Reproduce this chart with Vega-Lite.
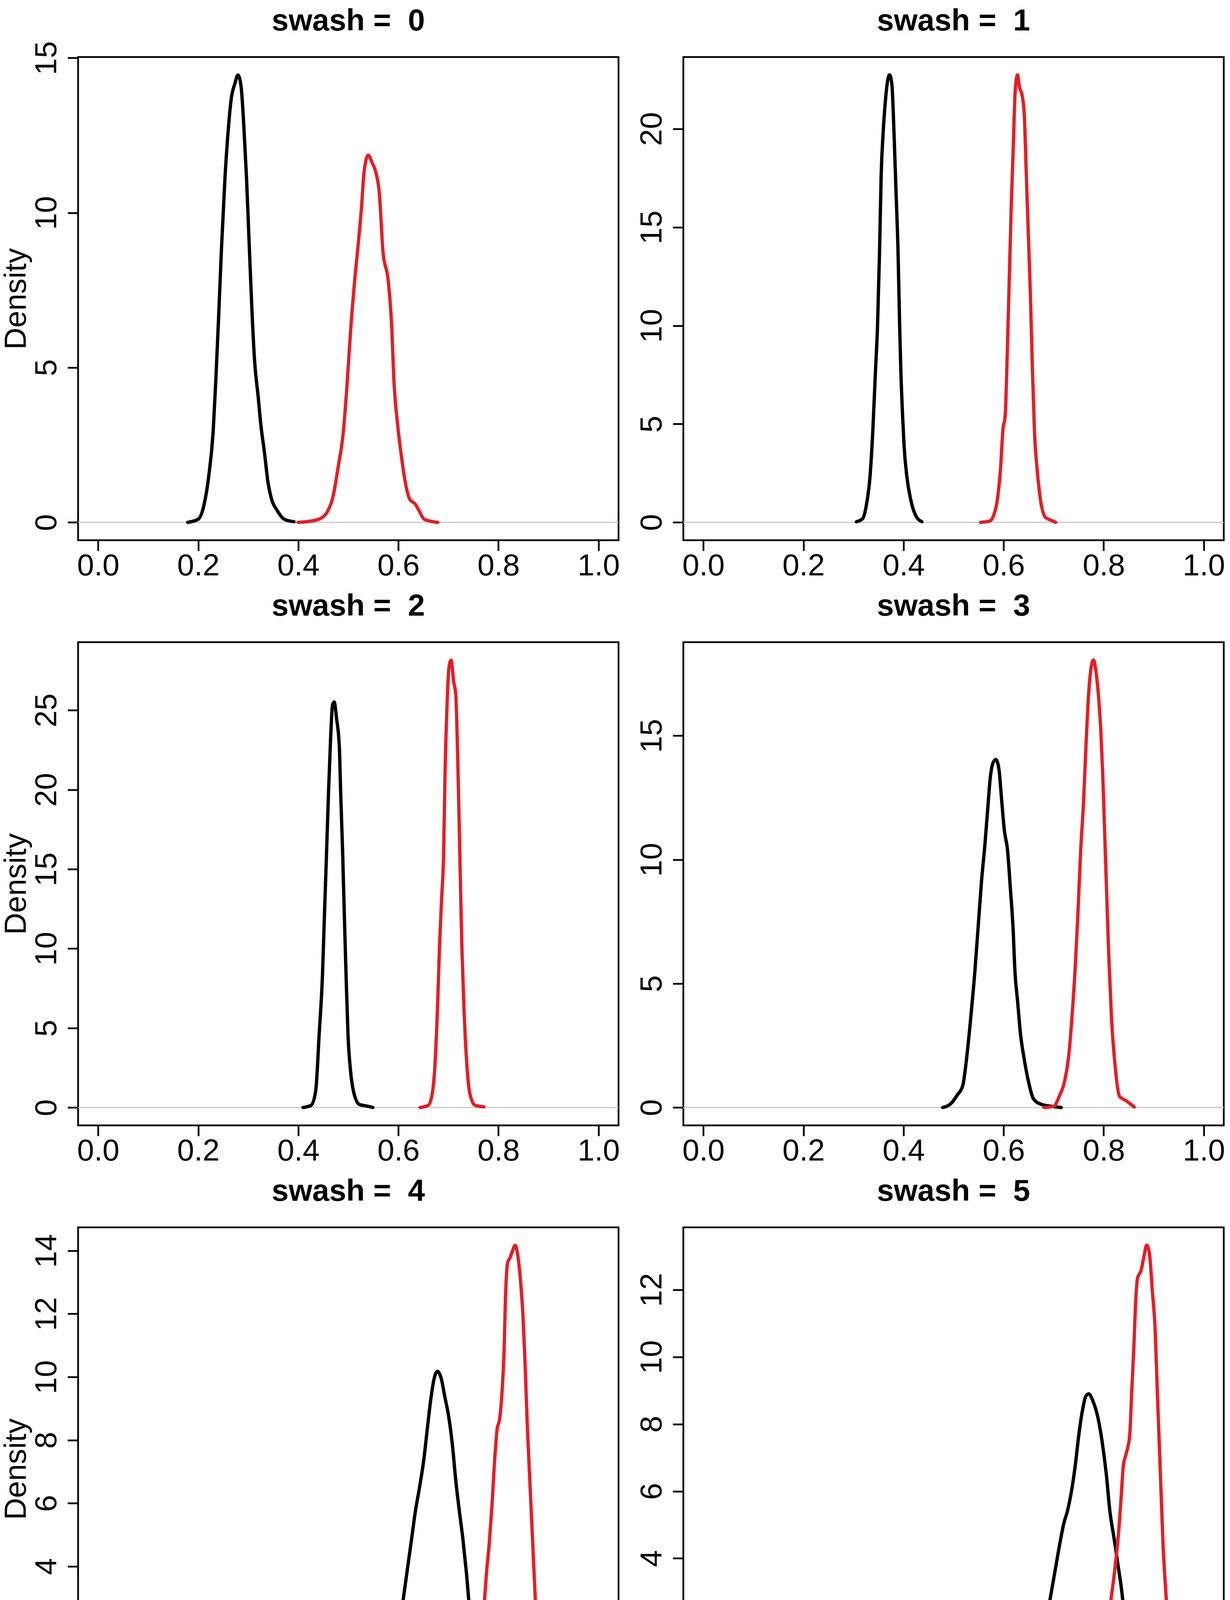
{
"$schema": "https://vega.github.io/schema/vega-lite/v6.json",
"background": "white",
"padding": {"top": 13, "left": 0, "right": 0, "bottom": 0},
"config": {
 "font": "Liberation Sans",
 "view": {"stroke": "black", "strokeWidth": 4.5},
 "axis": {"grid": false, "domain": false, "ticks": true, "tickColor": "black", "tickWidth": 4.5, "tickSize": 27, "labelFontSize": 78, "labelColor": "black", "labelFont": "Liberation Sans", "titleFontSize": 78, "titleFontWeight": "normal", "titleColor": "black", "titleFont": "Liberation Sans", "labelOverlap": false, "labelBound": false, "labelFlush": false},
 "axisX": {"labelPadding": 0, "labelAngle": 0, "titlePadding": 10},
 "axisY": {"labelAngle": 270, "labelAlign": "center", "labelBaseline": "alphabetic", "labelPadding": 30, "titlePadding": 0},
 "title": {"fontSize": 78, "fontWeight": "bold", "color": "black", "font": "Liberation Sans", "baseline": "alphabetic", "anchor": "middle", "frame": "group", "offset": 52},
 "line": {"strokeWidth": 8.5, "strokeJoin": "round", "strokeCap": "round", "interpolate": "monotone"}
},
"data": {"values": [
{"swash":0,"group":"A","p":0.179,"density":0},{"swash":0,"group":"A","p":0.2,"density":0.1},{"swash":0,"group":"A","p":0.212,"density":0.59},{"swash":0,"group":"A","p":0.221,"density":1.48},{"swash":0,"group":"A","p":0.23,"density":2.95},{"swash":0,"group":"A","p":0.2356,"density":4.72},{"swash":0,"group":"A","p":0.241,"density":6.69},{"swash":0,"group":"A","p":0.2463,"density":8.76},{"swash":0,"group":"A","p":0.2535,"density":11.12},{"swash":0,"group":"A","p":0.2607,"density":12.8},{"swash":0,"group":"A","p":0.266,"density":13.68},{"swash":0,"group":"A","p":0.2733,"density":14.17},{"swash":0,"group":"A","p":0.2794,"density":14.45},{"swash":0,"group":"A","p":0.2858,"density":14.07},{"swash":0,"group":"A","p":0.2912,"density":12.8},{"swash":0,"group":"A","p":0.2966,"density":11.12},{"swash":0,"group":"A","p":0.302,"density":8.96},{"swash":0,"group":"A","p":0.3073,"density":6.89},{"swash":0,"group":"A","p":0.3127,"density":5.22},{"swash":0,"group":"A","p":0.32,"density":4.04},{"swash":0,"group":"A","p":0.3252,"density":3.15},{"swash":0,"group":"A","p":0.3324,"density":2.26},{"swash":0,"group":"A","p":0.3396,"density":1.28},{"swash":0,"group":"A","p":0.3468,"density":0.74},{"swash":0,"group":"A","p":0.3576,"density":0.39},{"swash":0,"group":"A","p":0.3719,"density":0.1},{"swash":0,"group":"A","p":0.3916,"density":0.02},
{"swash":0,"group":"B","p":0.3995,"density":0},{"swash":0,"group":"B","p":0.4293,"density":0.05},{"swash":0,"group":"B","p":0.4472,"density":0.15},{"swash":0,"group":"B","p":0.458,"density":0.34},{"swash":0,"group":"B","p":0.4688,"density":0.79},{"swash":0,"group":"B","p":0.4795,"density":1.77},{"swash":0,"group":"B","p":0.4902,"density":2.95},{"swash":0,"group":"B","p":0.4974,"density":4.43},{"swash":0,"group":"B","p":0.5046,"density":6.2},{"swash":0,"group":"B","p":0.5136,"density":7.97},{"swash":0,"group":"B","p":0.5208,"density":9.15},{"swash":0,"group":"B","p":0.5262,"density":10.14},{"swash":0,"group":"B","p":0.5315,"density":11.32},{"swash":0,"group":"B","p":0.5398,"density":11.86},{"swash":0,"group":"B","p":0.5477,"density":11.61},{"swash":0,"group":"B","p":0.5548,"density":11.32},{"swash":0,"group":"B","p":0.562,"density":10.63},{"swash":0,"group":"B","p":0.5692,"density":8.76},{"swash":0,"group":"B","p":0.5799,"density":7.78},{"swash":0,"group":"B","p":0.5871,"density":6.2},{"swash":0,"group":"B","p":0.5907,"density":4.72},{"swash":0,"group":"B","p":0.5979,"density":3.25},{"swash":0,"group":"B","p":0.6051,"density":2.26},{"swash":0,"group":"B","p":0.614,"density":1.28},{"swash":0,"group":"B","p":0.623,"density":0.74},{"swash":0,"group":"B","p":0.6338,"density":0.59},{"swash":0,"group":"B","p":0.641,"density":0.39},{"swash":0,"group":"B","p":0.6517,"density":0.1},{"swash":0,"group":"B","p":0.6786,"density":0},
{"swash":1,"group":"A","p":0.3058,"density":0.03},{"swash":1,"group":"A","p":0.3181,"density":0.18},{"swash":1,"group":"A","p":0.3263,"density":0.95},{"swash":1,"group":"A","p":0.3331,"density":2.33},{"swash":1,"group":"A","p":0.3386,"density":4.63},{"swash":1,"group":"A","p":0.344,"density":7.7},{"swash":1,"group":"A","p":0.3481,"density":10.0},{"swash":1,"group":"A","p":0.3522,"density":13.84},{"swash":1,"group":"A","p":0.3554,"density":17.68},{"swash":1,"group":"A","p":0.359,"density":19.67},{"swash":1,"group":"A","p":0.3631,"density":21.2},{"swash":1,"group":"A","p":0.3686,"density":22.5},{"swash":1,"group":"A","p":0.3721,"density":22.74},{"swash":1,"group":"A","p":0.3767,"density":22.28},{"swash":1,"group":"A","p":0.3808,"density":19.98},{"swash":1,"group":"A","p":0.3849,"density":16.91},{"swash":1,"group":"A","p":0.389,"density":13.84},{"swash":1,"group":"A","p":0.3923,"density":10.0},{"swash":1,"group":"A","p":0.3947,"density":7.7},{"swash":1,"group":"A","p":0.3982,"density":5.4},{"swash":1,"group":"A","p":0.4012,"density":3.87},{"swash":1,"group":"A","p":0.4067,"density":2.33},{"swash":1,"group":"A","p":0.4149,"density":1.1},{"swash":1,"group":"A","p":0.4245,"density":0.34},{"swash":1,"group":"A","p":0.4368,"density":0.03},
{"swash":1,"group":"B","p":0.554,"density":0},{"swash":1,"group":"B","p":0.5718,"density":0.06},{"swash":1,"group":"B","p":0.58,"density":0.34},{"swash":1,"group":"B","p":0.5881,"density":1.26},{"swash":1,"group":"B","p":0.5936,"density":2.64},{"swash":1,"group":"B","p":0.599,"density":4.79},{"swash":1,"group":"B","p":0.6031,"density":5.4},{"swash":1,"group":"B","p":0.6072,"density":8.47},{"swash":1,"group":"B","p":0.6113,"density":12.31},{"swash":1,"group":"B","p":0.6154,"density":16.14},{"swash":1,"group":"B","p":0.6195,"density":19.21},{"swash":1,"group":"B","p":0.623,"density":21.82},{"swash":1,"group":"B","p":0.6277,"density":22.74},{"swash":1,"group":"B","p":0.6317,"density":22.13},{"swash":1,"group":"B","p":0.6372,"density":21.67},{"swash":1,"group":"B","p":0.6413,"density":20.75},{"swash":1,"group":"B","p":0.6454,"density":17.68},{"swash":1,"group":"B","p":0.6495,"density":14.61},{"swash":1,"group":"B","p":0.6536,"density":11.54},{"swash":1,"group":"B","p":0.6577,"density":7.7},{"swash":1,"group":"B","p":0.6617,"density":4.63},{"swash":1,"group":"B","p":0.6672,"density":2.64},{"swash":1,"group":"B","p":0.674,"density":1.1},{"swash":1,"group":"B","p":0.6835,"density":0.26},{"swash":1,"group":"B","p":0.6945,"density":0.11},{"swash":1,"group":"B","p":0.704,"density":0},
{"swash":2,"group":"A","p":0.4094,"density":0},{"swash":2,"group":"A","p":0.4255,"density":0.13},{"swash":2,"group":"A","p":0.4349,"density":1.06},{"swash":2,"group":"A","p":0.4416,"density":4.51},{"swash":2,"group":"A","p":0.4484,"density":8.35},{"swash":2,"group":"A","p":0.4524,"density":12.18},{"swash":2,"group":"A","p":0.4565,"density":16.02},{"swash":2,"group":"A","p":0.4605,"density":19.86},{"swash":2,"group":"A","p":0.4645,"density":23.12},{"swash":2,"group":"A","p":0.4685,"density":25.33},{"swash":2,"group":"A","p":0.4718,"density":25.52},{"swash":2,"group":"A","p":0.4766,"density":24.46},{"swash":2,"group":"A","p":0.482,"density":22.74},{"swash":2,"group":"A","p":0.4847,"density":19.86},{"swash":2,"group":"A","p":0.4887,"density":16.02},{"swash":2,"group":"A","p":0.492,"density":12.18},{"swash":2,"group":"A","p":0.4955,"density":8.35},{"swash":2,"group":"A","p":0.4995,"density":4.51},{"swash":2,"group":"A","p":0.5048,"density":2.21},{"swash":2,"group":"A","p":0.5116,"density":0.86},{"swash":2,"group":"A","p":0.5223,"density":0.19},{"swash":2,"group":"A","p":0.5358,"density":0.1},{"swash":2,"group":"A","p":0.5492,"density":0},
{"swash":2,"group":"B","p":0.6434,"density":0},{"swash":2,"group":"B","p":0.6595,"density":0.13},{"swash":2,"group":"B","p":0.6677,"density":0.86},{"swash":2,"group":"B","p":0.673,"density":2.59},{"swash":2,"group":"B","p":0.6784,"density":6.43},{"swash":2,"group":"B","p":0.6824,"density":10.26},{"swash":2,"group":"B","p":0.6865,"density":13.14},{"swash":2,"group":"B","p":0.6905,"density":16.02},{"swash":2,"group":"B","p":0.6932,"density":20.82},{"swash":2,"group":"B","p":0.6972,"density":25.23},{"swash":2,"group":"B","p":0.7013,"density":27.72},{"swash":2,"group":"B","p":0.7053,"density":28.15},{"swash":2,"group":"B","p":0.7107,"density":26.77},{"swash":2,"group":"B","p":0.7147,"density":26.0},{"swash":2,"group":"B","p":0.7188,"density":21.78},{"swash":2,"group":"B","p":0.7228,"density":16.02},{"swash":2,"group":"B","p":0.7268,"density":10.26},{"swash":2,"group":"B","p":0.7309,"density":6.43},{"swash":2,"group":"B","p":0.7363,"density":2.97},{"swash":2,"group":"B","p":0.743,"density":0.86},{"swash":2,"group":"B","p":0.7538,"density":0.13},{"swash":2,"group":"B","p":0.7712,"density":0.04},
{"swash":3,"group":"A","p":0.4782,"density":0},{"swash":3,"group":"A","p":0.4943,"density":0.15},{"swash":3,"group":"A","p":0.5077,"density":0.51},{"swash":3,"group":"A","p":0.5184,"density":0.88},{"swash":3,"group":"A","p":0.5264,"density":2.04},{"swash":3,"group":"A","p":0.5344,"density":3.63},{"swash":3,"group":"A","p":0.5425,"density":5.46},{"swash":3,"group":"A","p":0.5492,"density":7.29},{"swash":3,"group":"A","p":0.5559,"density":9.13},{"swash":3,"group":"A","p":0.5626,"density":10.59},{"swash":3,"group":"A","p":0.5679,"density":11.94},{"swash":3,"group":"A","p":0.5733,"density":13.28},{"swash":3,"group":"A","p":0.5786,"density":13.89},{"swash":3,"group":"A","p":0.5845,"density":14.04},{"swash":3,"group":"A","p":0.5907,"density":13.65},{"swash":3,"group":"A","p":0.596,"density":12.43},{"swash":3,"group":"A","p":0.6014,"density":11.2},{"swash":3,"group":"A","p":0.6081,"density":10.35},{"swash":3,"group":"A","p":0.6134,"density":8.88},{"swash":3,"group":"A","p":0.6188,"density":7.29},{"swash":3,"group":"A","p":0.6228,"density":5.46},{"swash":3,"group":"A","p":0.6282,"density":4.24},{"swash":3,"group":"A","p":0.6335,"density":3.02},{"swash":3,"group":"A","p":0.6415,"density":1.92},{"swash":3,"group":"A","p":0.6496,"density":1.06},{"swash":3,"group":"A","p":0.6603,"density":0.33},{"swash":3,"group":"A","p":0.6764,"density":0.12},{"swash":3,"group":"A","p":0.6951,"density":0.05},{"swash":3,"group":"A","p":0.7152,"density":0},
{"swash":3,"group":"B","p":0.6804,"density":0},{"swash":3,"group":"B","p":0.7005,"density":0.05},{"swash":3,"group":"B","p":0.7112,"density":0.45},{"swash":3,"group":"B","p":0.7219,"density":1.06},{"swash":3,"group":"B","p":0.7299,"density":2.04},{"swash":3,"group":"B","p":0.7366,"density":3.63},{"swash":3,"group":"B","p":0.7433,"density":5.71},{"swash":3,"group":"B","p":0.7487,"density":7.9},{"swash":3,"group":"B","p":0.754,"density":10.35},{"swash":3,"group":"B","p":0.7594,"density":12.18},{"swash":3,"group":"B","p":0.7647,"density":14.62},{"swash":3,"group":"B","p":0.77,"density":16.7},{"swash":3,"group":"B","p":0.7754,"density":17.8},{"swash":3,"group":"B","p":0.7795,"density":18.05},{"swash":3,"group":"B","p":0.7848,"density":17.56},{"swash":3,"group":"B","p":0.7902,"density":16.46},{"swash":3,"group":"B","p":0.7942,"density":15.24},{"swash":3,"group":"B","p":0.7982,"density":13.4},{"swash":3,"group":"B","p":0.8022,"density":10.96},{"swash":3,"group":"B","p":0.8062,"density":8.52},{"swash":3,"group":"B","p":0.8103,"density":6.07},{"swash":3,"group":"B","p":0.8156,"density":3.63},{"swash":3,"group":"B","p":0.8223,"density":1.8},{"swash":3,"group":"B","p":0.8317,"density":0.45},{"swash":3,"group":"B","p":0.8451,"density":0.27},{"swash":3,"group":"B","p":0.8611,"density":0.02},
{"swash":4,"group":"A","p":0.5169,"density":0},{"swash":4,"group":"A","p":0.5364,"density":0.05},{"swash":4,"group":"A","p":0.5545,"density":0.17},{"swash":4,"group":"A","p":0.5698,"density":0.51},{"swash":4,"group":"A","p":0.5838,"density":0.75},{"swash":4,"group":"A","p":0.5922,"density":1.13},{"swash":4,"group":"A","p":0.6005,"density":1.9},{"swash":4,"group":"A","p":0.6089,"density":2.86},{"swash":4,"group":"A","p":0.6173,"density":3.82},{"swash":4,"group":"A","p":0.6257,"density":4.78},{"swash":4,"group":"A","p":0.634,"density":5.74},{"swash":4,"group":"A","p":0.6424,"density":6.51},{"swash":4,"group":"A","p":0.6508,"density":7.37},{"swash":4,"group":"A","p":0.6577,"density":8.33},{"swash":4,"group":"A","p":0.6648,"density":9.29},{"swash":4,"group":"A","p":0.6717,"density":9.96},{"swash":4,"group":"A","p":0.6781,"density":10.18},{"swash":4,"group":"A","p":0.6856,"density":9.96},{"swash":4,"group":"A","p":0.6927,"density":9.39},{"swash":4,"group":"A","p":0.701,"density":8.71},{"swash":4,"group":"A","p":0.708,"density":7.85},{"swash":4,"group":"A","p":0.7149,"density":6.7},{"swash":4,"group":"A","p":0.722,"density":5.74},{"swash":4,"group":"A","p":0.7289,"density":4.88},{"swash":4,"group":"A","p":0.7359,"density":3.82},{"swash":4,"group":"A","p":0.7429,"density":2.57},{"swash":4,"group":"A","p":0.7513,"density":1.61},{"swash":4,"group":"A","p":0.7596,"density":1.04},{"swash":4,"group":"A","p":0.7694,"density":0.56},{"swash":4,"group":"A","p":0.7819,"density":0.17},{"swash":4,"group":"A","p":0.8015,"density":0.05},{"swash":4,"group":"A","p":0.8377,"density":0},
{"swash":4,"group":"B","p":0.6912,"density":0},{"swash":4,"group":"B","p":0.7094,"density":0.03},{"swash":4,"group":"B","p":0.7261,"density":0.08},{"swash":4,"group":"B","p":0.7373,"density":0.27},{"swash":4,"group":"B","p":0.7484,"density":0.56},{"swash":4,"group":"B","p":0.7554,"density":1.04},{"swash":4,"group":"B","p":0.7624,"density":1.71},{"swash":4,"group":"B","p":0.7708,"density":2.67},{"swash":4,"group":"B","p":0.7763,"density":3.82},{"swash":4,"group":"B","p":0.7819,"density":4.78},{"swash":4,"group":"B","p":0.7875,"density":6.03},{"swash":4,"group":"B","p":0.7917,"density":7.18},{"swash":4,"group":"B","p":0.7973,"density":8.33},{"swash":4,"group":"B","p":0.8028,"density":8.71},{"swash":4,"group":"B","p":0.807,"density":9.48},{"swash":4,"group":"B","p":0.8113,"density":10.83},{"swash":4,"group":"B","p":0.814,"density":12.46},{"swash":4,"group":"B","p":0.8182,"density":13.61},{"swash":4,"group":"B","p":0.8238,"density":13.8},{"swash":4,"group":"B","p":0.828,"density":13.99},{"swash":4,"group":"B","p":0.8335,"density":14.17},{"swash":4,"group":"B","p":0.8391,"density":13.8},{"swash":4,"group":"B","p":0.8447,"density":12.94},{"swash":4,"group":"B","p":0.8489,"density":11.98},{"swash":4,"group":"B","p":0.853,"density":10.54},{"swash":4,"group":"B","p":0.8573,"density":8.62},{"swash":4,"group":"B","p":0.8628,"density":6.7},{"swash":4,"group":"B","p":0.8684,"density":4.78},{"swash":4,"group":"B","p":0.874,"density":2.86},{"swash":4,"group":"B","p":0.8809,"density":1.42},{"swash":4,"group":"B","p":0.8907,"density":0.46},{"swash":4,"group":"B","p":0.9033,"density":0.17},{"swash":4,"group":"B","p":0.92,"density":0},
{"swash":5,"group":"A","p":0.5637,"density":0},{"swash":5,"group":"A","p":0.5905,"density":0.05},{"swash":5,"group":"A","p":0.616,"density":0.14},{"swash":5,"group":"A","p":0.633,"density":0.41},{"swash":5,"group":"A","p":0.647,"density":0.59},{"swash":5,"group":"A","p":0.6598,"density":0.77},{"swash":5,"group":"A","p":0.6697,"density":1.17},{"swash":5,"group":"A","p":0.6782,"density":1.71},{"swash":5,"group":"A","p":0.6866,"density":2.25},{"swash":5,"group":"A","p":0.6951,"density":2.97},{"swash":5,"group":"A","p":0.7036,"density":3.69},{"swash":5,"group":"A","p":0.712,"density":4.41},{"swash":5,"group":"A","p":0.7205,"density":5.05},{"swash":5,"group":"A","p":0.7276,"density":5.41},{"swash":5,"group":"A","p":0.7361,"density":6.04},{"swash":5,"group":"A","p":0.7432,"density":6.76},{"swash":5,"group":"A","p":0.7502,"density":7.66},{"swash":5,"group":"A","p":0.7573,"density":8.38},{"swash":5,"group":"A","p":0.7644,"density":8.83},{"swash":5,"group":"A","p":0.7701,"density":8.9},{"swash":5,"group":"A","p":0.7785,"density":8.69},{"swash":5,"group":"A","p":0.7884,"density":8.2},{"swash":5,"group":"A","p":0.7969,"density":7.48},{"swash":5,"group":"A","p":0.8054,"density":6.49},{"swash":5,"group":"A","p":0.8124,"density":5.41},{"swash":5,"group":"A","p":0.8209,"density":4.59},{"swash":5,"group":"A","p":0.828,"density":3.87},{"swash":5,"group":"A","p":0.8351,"density":3.15},{"swash":5,"group":"A","p":0.8421,"density":2.25},{"swash":5,"group":"A","p":0.8506,"density":1.44},{"swash":5,"group":"A","p":0.8591,"density":0.9},{"swash":5,"group":"A","p":0.869,"density":0.41},{"swash":5,"group":"A","p":0.8817,"density":0.18},{"swash":5,"group":"A","p":0.9043,"density":0.09},{"swash":5,"group":"A","p":0.9269,"density":0},
{"swash":5,"group":"B","p":0.7107,"density":0},{"swash":5,"group":"B","p":0.7376,"density":0.02},{"swash":5,"group":"B","p":0.7601,"density":0.14},{"swash":5,"group":"B","p":0.7771,"density":0.32},{"swash":5,"group":"B","p":0.7884,"density":0.63},{"swash":5,"group":"B","p":0.7969,"density":1.17},{"swash":5,"group":"B","p":0.8054,"density":1.8},{"swash":5,"group":"B","p":0.8124,"density":2.52},{"swash":5,"group":"B","p":0.8195,"density":3.33},{"swash":5,"group":"B","p":0.8251,"density":4.05},{"swash":5,"group":"B","p":0.8308,"density":4.95},{"swash":5,"group":"B","p":0.8351,"density":5.86},{"swash":5,"group":"B","p":0.8393,"density":6.76},{"swash":5,"group":"B","p":0.845,"density":7.12},{"swash":5,"group":"B","p":0.852,"density":7.66},{"swash":5,"group":"B","p":0.8562,"density":9.01},{"swash":5,"group":"B","p":0.8605,"density":10.36},{"swash":5,"group":"B","p":0.8633,"density":11.44},{"swash":5,"group":"B","p":0.8676,"density":12.34},{"swash":5,"group":"B","p":0.8746,"density":12.57},{"swash":5,"group":"B","p":0.8802,"density":12.97},{"swash":5,"group":"B","p":0.8859,"density":13.33},{"swash":5,"group":"B","p":0.8916,"density":13.06},{"swash":5,"group":"B","p":0.8972,"density":11.98},{"swash":5,"group":"B","p":0.9029,"density":10.81},{"swash":5,"group":"B","p":0.9071,"density":9.01},{"swash":5,"group":"B","p":0.9128,"density":6.76},{"swash":5,"group":"B","p":0.9184,"density":4.5},{"swash":5,"group":"B","p":0.9255,"density":2.7},{"swash":5,"group":"B","p":0.9326,"density":1.17},{"swash":5,"group":"B","p":0.9411,"density":0.36},{"swash":5,"group":"B","p":0.9523,"density":0.09},{"swash":5,"group":"B","p":0.9693,"density":0}
]},
"columns": 2,
"spacing": {"row": 261, "column": 166},
"bounds": "flush",
"resolve": {"scale": {"y": "independent", "x": "independent"}},
"concat": [
 {"width": 1384, "height": 1237, "title": {"text": "swash = \u00a00", "offset": 11},
  "encoding": {"y": {"field": "density", "type": "quantitative", "scale": {"domain": [-0.578, 15.03], "nice": false, "zero": false}, "axis": {"values": [0, 5, 10, 15], "format": "d", "title": "Density"}}},
  "layer": [
   {"data": {"values": [{"density": 0}]}, "mark": {"type": "rule", "color": "#C8C8C8", "strokeWidth": 3}},
   {"transform": [{"filter": "datum.swash === 0"}], "mark": "line", "encoding": {
     "x": {"field": "p", "type": "quantitative", "scale": {"domain": [-0.04, 1.04], "nice": false, "zero": false}, "axis": {"values": [0, 0.2, 0.4, 0.6, 0.8, 1.0], "format": ".1f", "title": null}},
     "color": {"field": "group", "type": "nominal", "scale": {"domain": ["A", "B"], "range": ["#000000", "#E41E26"]}, "legend": null}}}
  ]},
 {"width": 1384, "height": 1237, "title": {"text": "swash = \u00a01"},
  "encoding": {"y": {"field": "density", "type": "quantitative", "scale": {"domain": [-0.91, 23.65], "nice": false, "zero": false}, "axis": {"values": [0, 5, 10, 15, 20], "format": "d", "title": null}}},
  "layer": [
   {"data": {"values": [{"density": 0}]}, "mark": {"type": "rule", "color": "#C8C8C8", "strokeWidth": 3}},
   {"transform": [{"filter": "datum.swash === 1"}], "mark": "line", "encoding": {
     "x": {"field": "p", "type": "quantitative", "scale": {"domain": [-0.04, 1.04], "nice": false, "zero": false}, "axis": {"values": [0, 0.2, 0.4, 0.6, 0.8, 1.0], "format": ".1f", "title": null}},
     "color": {"field": "group", "type": "nominal", "scale": {"domain": ["A", "B"], "range": ["#000000", "#E41E26"]}, "legend": null}}}
  ]},
 {"width": 1384, "height": 1237, "title": {"text": "swash = \u00a02"},
  "encoding": {"y": {"field": "density", "type": "quantitative", "scale": {"domain": [-1.126, 29.28], "nice": false, "zero": false}, "axis": {"values": [0, 5, 10, 15, 20, 25], "format": "d", "title": "Density"}}},
  "layer": [
   {"data": {"values": [{"density": 0}]}, "mark": {"type": "rule", "color": "#C8C8C8", "strokeWidth": 3}},
   {"transform": [{"filter": "datum.swash === 2"}], "mark": "line", "encoding": {
     "x": {"field": "p", "type": "quantitative", "scale": {"domain": [-0.04, 1.04], "nice": false, "zero": false}, "axis": {"values": [0, 0.2, 0.4, 0.6, 0.8, 1.0], "format": ".1f", "title": null}},
     "color": {"field": "group", "type": "nominal", "scale": {"domain": ["A", "B"], "range": ["#000000", "#E41E26"]}, "legend": null}}}
  ]},
 {"width": 1384, "height": 1237, "title": {"text": "swash = \u00a03"},
  "encoding": {"y": {"field": "density", "type": "quantitative", "scale": {"domain": [-0.722, 18.77], "nice": false, "zero": false}, "axis": {"values": [0, 5, 10, 15], "format": "d", "title": null}}},
  "layer": [
   {"data": {"values": [{"density": 0}]}, "mark": {"type": "rule", "color": "#C8C8C8", "strokeWidth": 3}},
   {"transform": [{"filter": "datum.swash === 3"}], "mark": "line", "encoding": {
     "x": {"field": "p", "type": "quantitative", "scale": {"domain": [-0.04, 1.04], "nice": false, "zero": false}, "axis": {"values": [0, 0.2, 0.4, 0.6, 0.8, 1.0], "format": ".1f", "title": null}},
     "color": {"field": "group", "type": "nominal", "scale": {"domain": ["A", "B"], "range": ["#000000", "#E41E26"]}, "legend": null}}}
  ]},
 {"width": 1384, "height": 1237, "title": {"text": "swash = \u00a04"},
  "encoding": {"y": {"field": "density", "type": "quantitative", "scale": {"domain": [-0.567, 14.74], "nice": false, "zero": false}, "axis": {"values": [0, 2, 4, 6, 8, 10, 12, 14], "format": "d", "title": "Density"}}},
  "layer": [
   {"data": {"values": [{"density": 0}]}, "mark": {"type": "rule", "color": "#C8C8C8", "strokeWidth": 3}},
   {"transform": [{"filter": "datum.swash === 4"}], "mark": "line", "encoding": {
     "x": {"field": "p", "type": "quantitative", "scale": {"domain": [-0.04, 1.04], "nice": false, "zero": false}, "axis": {"values": [0, 0.2, 0.4, 0.6, 0.8, 1.0], "format": ".1f", "title": "p"}},
     "color": {"field": "group", "type": "nominal", "scale": {"domain": ["A", "B"], "range": ["#000000", "#E41E26"]}, "legend": null}}}
  ]},
 {"width": 1384, "height": 1237, "title": {"text": "swash = \u00a05"},
  "encoding": {"y": {"field": "density", "type": "quantitative", "scale": {"domain": [-0.533, 13.86], "nice": false, "zero": false}, "axis": {"values": [0, 2, 4, 6, 8, 10, 12], "format": "d", "title": null}}},
  "layer": [
   {"data": {"values": [{"density": 0}]}, "mark": {"type": "rule", "color": "#C8C8C8", "strokeWidth": 3}},
   {"transform": [{"filter": "datum.swash === 5"}], "mark": "line", "encoding": {
     "x": {"field": "p", "type": "quantitative", "scale": {"domain": [-0.04, 1.04], "nice": false, "zero": false}, "axis": {"values": [0, 0.2, 0.4, 0.6, 0.8, 1.0], "format": ".1f", "title": "p"}},
     "color": {"field": "group", "type": "nominal", "scale": {"domain": ["A", "B"], "range": ["#000000", "#E41E26"]}, "legend": null}}}
  ]}
]
}
